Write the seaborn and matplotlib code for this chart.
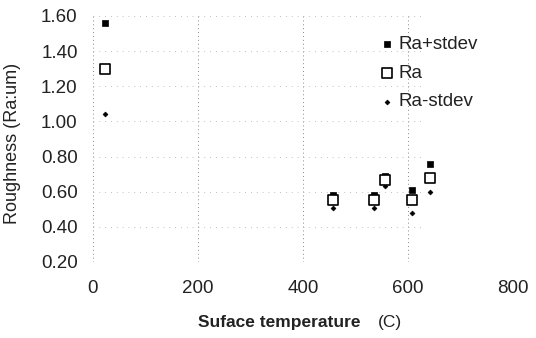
import matplotlib
matplotlib.use("Agg")
import matplotlib.pyplot as plt
import seaborn as sns
import pandas as pd

temps = [23, 457, 536, 556, 607, 641]
ra_plus = [1.56, 0.58, 0.58, 0.69, 0.61, 0.76]
ra = [1.30, 0.55, 0.55, 0.665, 0.555, 0.68]
ra_minus = [1.04, 0.51, 0.51, 0.633, 0.477, 0.60]
x_ticks = [0, 200, 400, 600, 800]
y_ticks = [0.20, 0.40, 0.60, 0.80, 1.00, 1.20, 1.40, 1.60]

sns.set_theme(style="white")
plt.rcParams['font.family'] = ['Liberation Sans', 'DejaVu Sans']

fig = plt.figure(figsize=(5.36, 3.38), dpi=100)
ax = fig.add_axes([93/536, 1-262/338, (513-93)/536, (262-16)/338])

df = pd.DataFrame({"temp": temps, "plus": ra_plus, "ra": ra, "minus": ra_minus})

sns.scatterplot(data=df, x="temp", y="plus", ax=ax, marker="s", s=18, color="black",
                edgecolor="black", linewidth=0.5, label="Ra+stdev", clip_on=False, zorder=3)
sns.scatterplot(data=df, x="temp", y="ra", ax=ax, marker="s", s=44, facecolor="white",
                edgecolor="black", linewidth=1.2, label="Ra", clip_on=False, zorder=4)
sns.scatterplot(data=df, x="temp", y="minus", ax=ax, marker="D", s=6, color="black",
                edgecolor="black", linewidth=0.5, label="Ra-stdev", clip_on=False, zorder=3)

ax.set_xlim(0, 800)
ax.set_ylim(0.2, 1.6)
ax.set_xticks(x_ticks)
ax.set_yticks(y_ticks)
ax.set_yticklabels([f"{v:.2f}" for v in y_ticks])
ax.tick_params(axis="both", length=0, labelsize=13.5, colors="#222222")
ax.tick_params(axis="y", pad=11)
ax.tick_params(axis="x", pad=13)
for sp in ax.spines.values():
    sp.set_visible(False)

for xv in x_ticks[:-1]:
    ax.axvline(xv, color="#888888", lw=0.7, ls=(0, (1, 3)), zorder=1)
for yv in y_ticks:
    ax.axhline(yv, xmax=0.78, color="#aaaaaa", lw=0.6, ls=(0, (1, 6)), zorder=1)

ax.set_xlabel("")
ax.set_ylabel("")
fig.text(13/536, 1-143/338, "Roughness (Ra:um)", fontsize=13, color="#222222",
         rotation=90, ha="center", va="center")

fig.text(279/536, 1-323/338, "Suface temperature", fontsize=12.5, fontweight="bold",
         color="#222222", ha="center", va="center")
fig.text(390/536, 1-323/338, "(C)", fontsize=12.5, color="#222222", ha="center", va="center")

leg = ax.legend(loc="upper left", bbox_to_anchor=(0.66, 0.95), frameon=False, fontsize=13.5,
                handletextpad=0.1, labelspacing=0.62, borderaxespad=0, handlelength=1.0)
for t in leg.get_texts():
    t.set_color("#222222")

fig.savefig("out.png", dpi=100)
